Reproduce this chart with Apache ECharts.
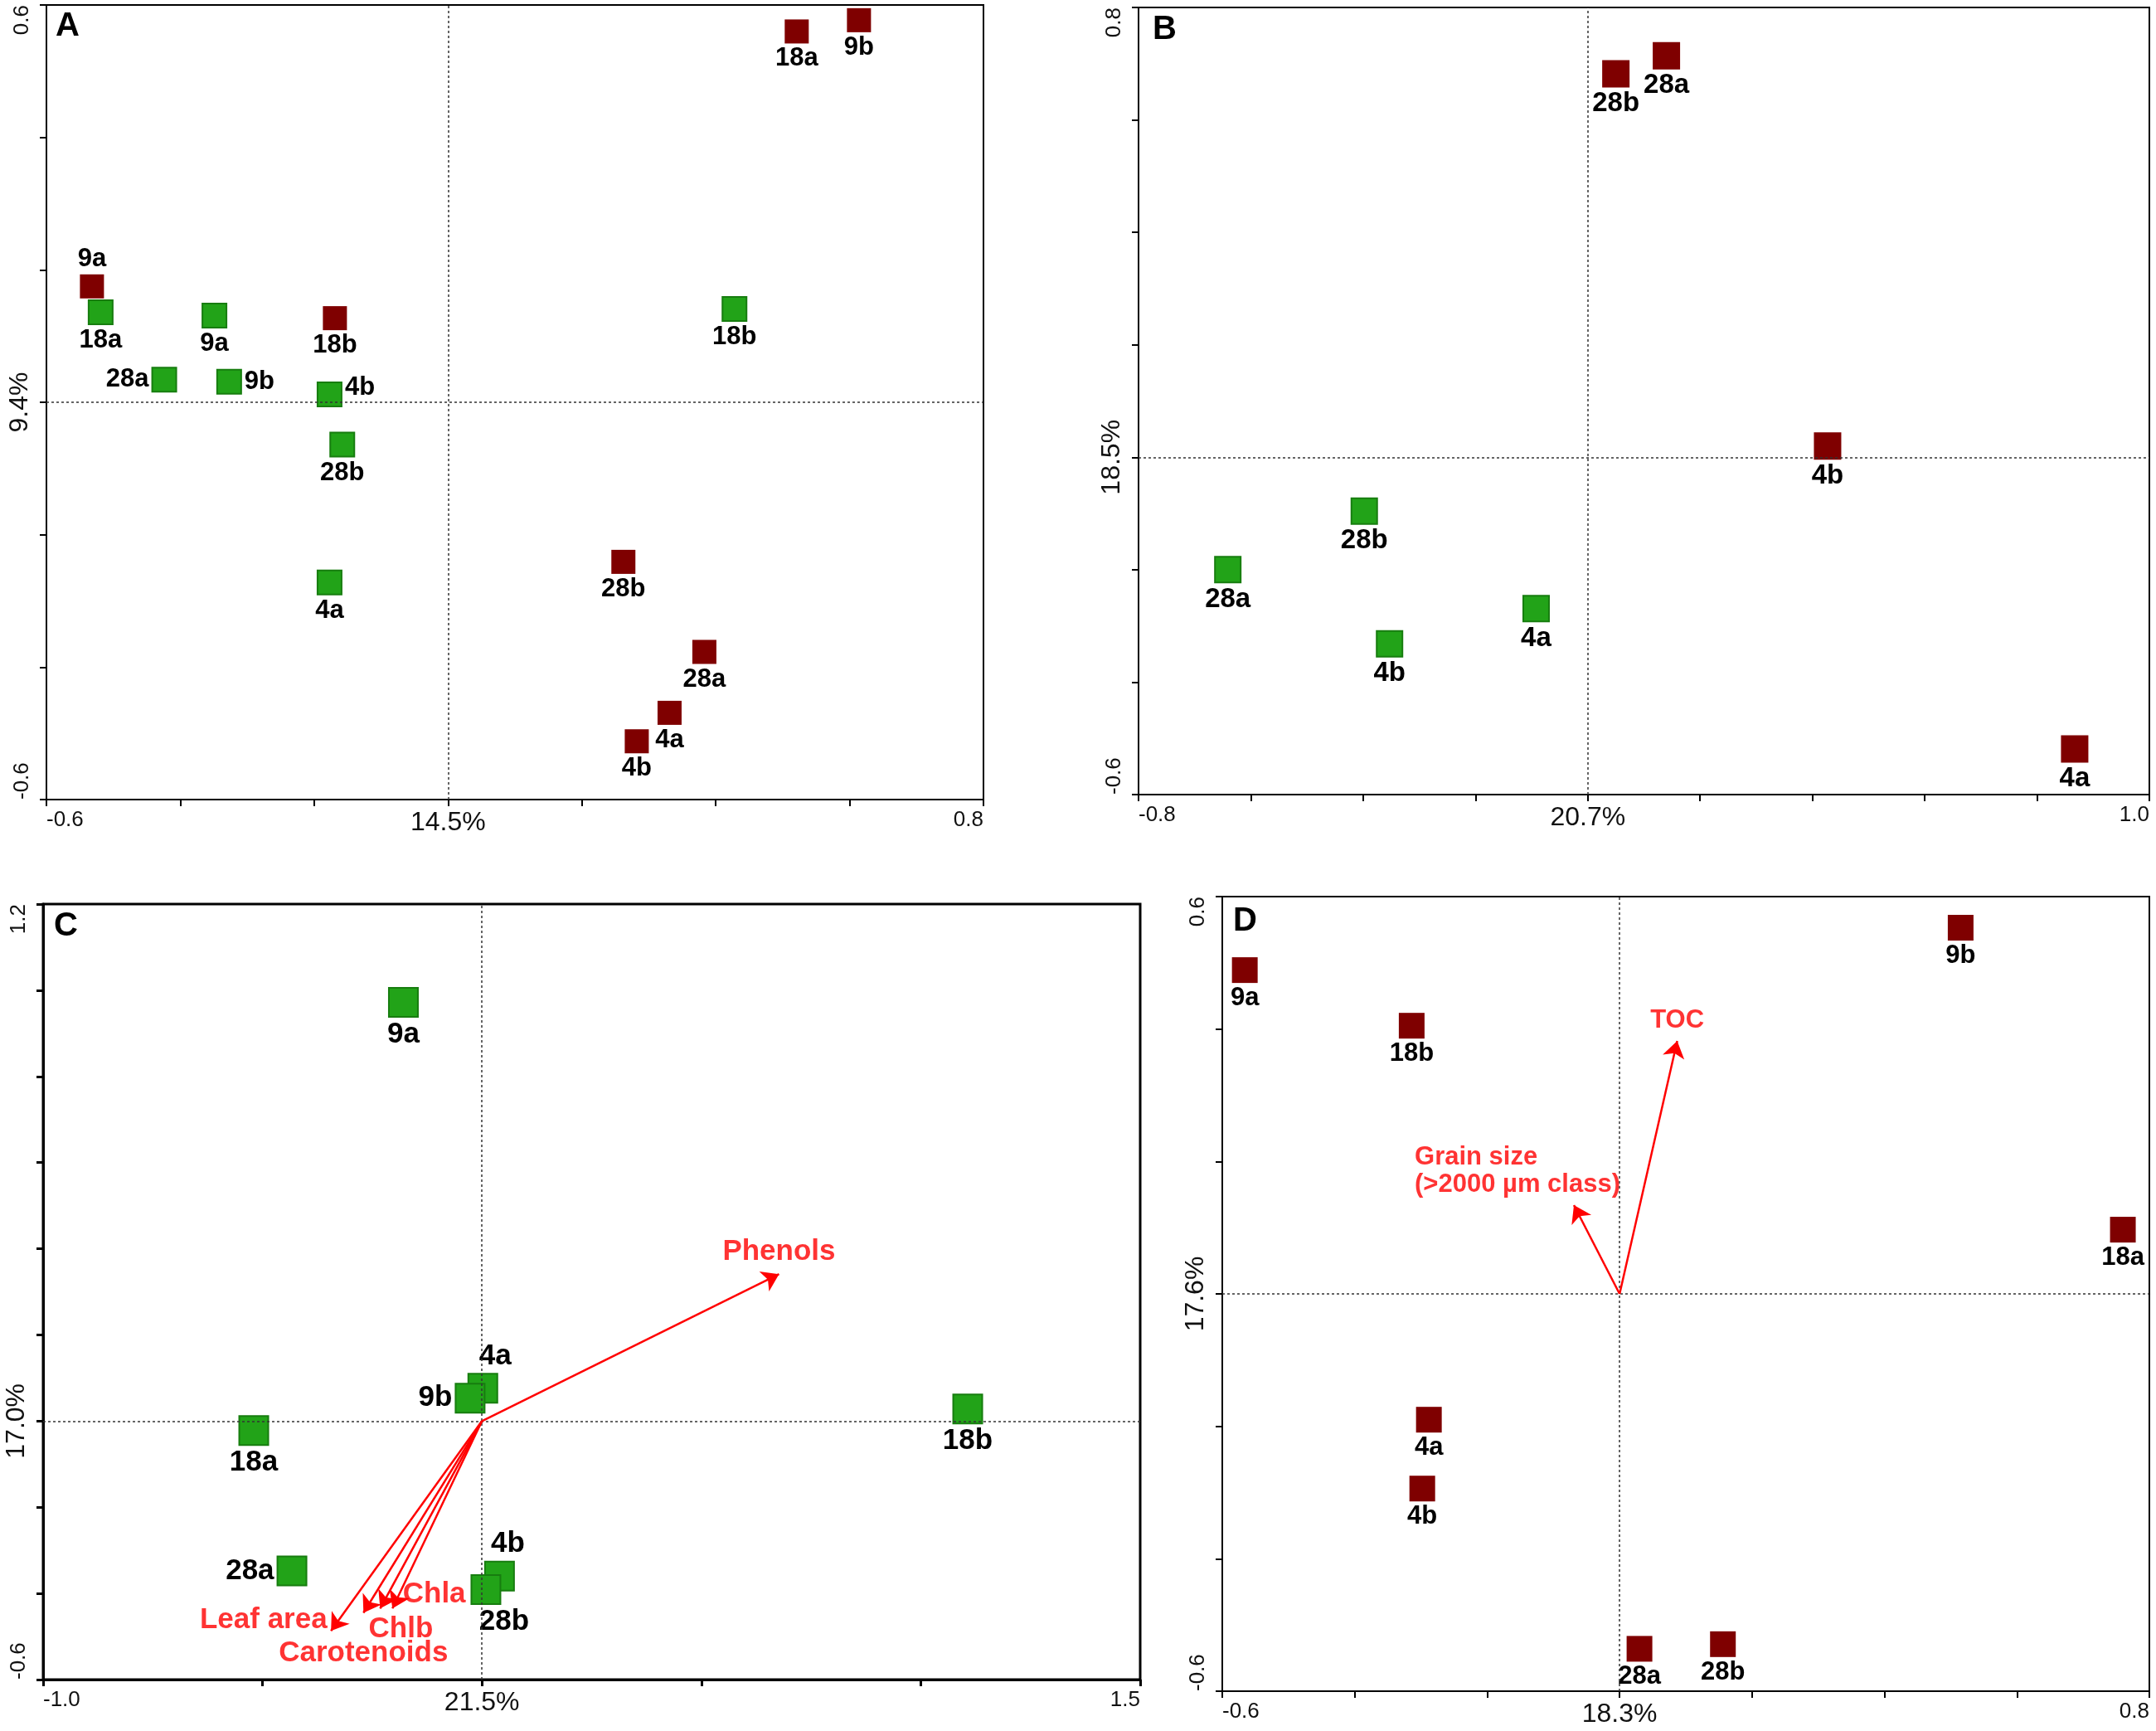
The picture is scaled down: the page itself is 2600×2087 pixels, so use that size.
<!DOCTYPE html>
<html>
<head>
<meta charset="utf-8">
<script src="https://cdn.jsdelivr.net/npm/echarts@6/dist/echarts.min.js"></script>
<style>
  html, body { margin: 0; padding: 0; background: #fff; }
  #chart { width: 2600px; height: 2087px; }
</style>
</head>
<body>
<div id="chart"></div>
<script>
// ---- panel A ----
const aRedNames = ['18a', '9b', '9a', '18b', '28b', '28a', '4a', '4b'];
const aRedX = [0.521, 0.614, -0.532, -0.169, 0.262, 0.383, 0.331, 0.282];
const aRedY = [0.560, 0.577, 0.175, 0.127, -0.241, -0.377, -0.469, -0.512];
const aGreenNames = ['18a', '9a', '28a', '9b', '4b', '28b', '4a', '18b'];
const aGreenX = [-0.519, -0.349, -0.424, -0.327, -0.177, -0.158, -0.177, 0.428];
const aGreenY = [0.136, 0.131, 0.034, 0.031, 0.012, -0.064, -0.272, 0.141];

// ---- panel B ----
const bRedNames = ['28b', '28a', '4b', '4a'];
const bRedX = [0.050, 0.140, 0.427, 0.867];
const bRedY = [0.682, 0.714, 0.020, -0.519];
const bGreenNames = ['28b', '28a', '4a', '4b'];
const bGreenX = [-0.398, -0.641, -0.092, -0.353];
const bGreenY = [-0.096, -0.200, -0.269, -0.332];

// ---- panel C ----
const cGreenNames = ['9a', '4a', '9b', '18a', '18b', '28a', '4b', '28b'];
const cGreenX = [-0.179, 0.002, -0.027, -0.520, 1.107, -0.433, 0.040, 0.009];
const cGreenY = [0.972, 0.076, 0.053, -0.022, 0.028, -0.348, -0.360, -0.391];
const cVarNames = ['Phenols', 'Leaf area', 'Carotenoids', 'Chlb', 'Chla'];
const cVarX = [0.677, -0.344, -0.270, -0.232, -0.204];
const cVarY = [0.341, -0.487, -0.445, -0.435, -0.435];

// ---- panel D ----
const dRedNames = ['9a', '18b', '9b', '18a', '4a', '4b', '28a', '28b'];
const dRedX = [-0.566, -0.314, 0.515, 0.760, -0.288, -0.298, 0.030, 0.156];
const dRedY = [0.489, 0.405, 0.553, 0.097, -0.190, -0.294, -0.536, -0.529];
const dVarNames = ['TOC', 'Grain size\n(>2000 µm class)'];
const dVarX = [0.087, -0.069];
const dVarY = [0.382, 0.134];

// axis percentages (x, y)
const axisPct = { A: ['14.5%', '9.4%'], B: ['20.7%', '18.5%'], C: ['21.5%', '17.0%'], D: ['18.3%', '17.6%'] };

// label placement (style only)
const aRedSides = ['bottom', 'bottom', 'top', 'bottom', 'bottom', 'bottom', 'bottom', 'bottom'];
const aGreenSides = ['bottom', 'bottom', 'left', 'right', ['right', 0, -8], 'bottom', 'bottom', 'bottom'];
const cGreenSides = ['bottom', ['top', 15, 0], 'left', 'bottom', 'bottom', 'left', ['top', 10, 0], ['bottom', 22, 0]];
const cVarSides = [['top', 0, 0, 8], ['left', 0, -13, 4], ['bottom', 0, 0, 30], ['bottom', 25, 0, 6], ['right', 0, -17, 12]];
const dVarSides = [['top', 0, 0, 8], ['top', -192, 0, 8, 'left']];

const FONT = '"Liberation Sans", Arial, sans-serif';
const RED = '#7f0000';
const GREEN = '#22a318';
const GREEN_EDGE = '#177d0f';
const ARROW = '#ff0000';

function labelOf(side) {
    const [pos, dx = 0, dy = 0, dist = 3, align] = Array.isArray(side) ? side : [side];
    const l = { position: pos, offset: [dx, dy], distance: dist };
    if (align) l.align = align;
    return l;
}

function points(names, xs, ys, sides) {
    return names.map((n, i) => ({
        name: n,
        value: [xs[i], ys[i]],
        label: labelOf(sides ? sides[i] : 'bottom')
    }));
}

function axis(grid, min, max, step, pct, isY, lineW) {
    const near = (a, b) => Math.abs(a - b) < 1e-9;
    return {
        type: 'value', gridIndex: grid, min: min, max: max, interval: step,
        axisLine: { show: true, onZero: false, lineStyle: { color: '#000', width: lineW } },
        axisTick: { show: true, length: 8, lineStyle: { color: '#000', width: lineW } },
        splitLine: { show: false },
        axisLabel: {
            show: true, showMinLabel: true, showMaxLabel: true,
            margin: isY ? 16 : 12, rotate: isY ? 90 : 0,
            color: '#111', fontSize: 26, fontFamily: FONT,
            alignMinLabel: 'left', alignMaxLabel: 'right',
            formatter: v => near(v, 0) ? '{p|' + pct + '}'
                : (near(v, min) || near(v, max)) ? v.toFixed(1) : '',
            rich: { p: { fontSize: 32, color: '#111', fontFamily: FONT } }
        }
    };
}

function scatter(grid, data, size, fontSize, green) {
    return {
        type: 'scatter', xAxisIndex: grid, yAxisIndex: grid, z: 3,
        symbol: 'rect', symbolSize: size,
        itemStyle: green ? { color: GREEN, borderColor: GREEN_EDGE, borderWidth: 2, opacity: 1 }
            : { color: RED, opacity: 1 },
        label: {
            show: true, formatter: '{b}', color: '#000', fontWeight: 'bold',
            fontSize: fontSize, fontFamily: FONT
        },
        emphasis: { disabled: true },
        data: data
    };
}

function zeroLines(grid) {
    return {
        type: 'scatter', xAxisIndex: grid, yAxisIndex: grid, z: 1, data: [],
        markLine: {
            silent: true, animation: false, symbol: 'none',
            label: { show: false },
            lineStyle: { color: '#333', width: 1.5, type: [3, 3], opacity: 1 },
            data: [{ xAxis: 0 }, { yAxis: 0 }]
        }
    };
}

function arrows(grid, names, xs, ys, sides, fontSize) {
    return {
        type: 'scatter', xAxisIndex: grid, yAxisIndex: grid, z: 4,
        symbolSize: 1, itemStyle: { color: 'rgba(0,0,0,0)' },
        label: {
            show: true, formatter: '{b}', color: ARROW, fontWeight: 'bold',
            fontSize: fontSize, fontFamily: FONT, lineHeight: fontSize + 2
        },
        emphasis: { disabled: true },
        data: points(names, xs, ys, sides),
        markLine: {
            silent: true, animation: false, symbol: ['none', 'arrow'], symbolSize: 20,
            label: { show: false },
            lineStyle: { color: ARROW, width: 2.5, type: 'solid', opacity: 1 },
            data: names.map((n, i) => [{ coord: [0, 0] }, { coord: [xs[i], ys[i]] }])
        }
    };
}

const grids = [
    { left: 56, top: 6, width: 1130, height: 958, lineW: 2 },
    { left: 1373, top: 9, width: 1219, height: 949, lineW: 2 },
    { left: 52, top: 1090, width: 1323, height: 935, lineW: 3 },
    { left: 1474, top: 1081, width: 1118, height: 958, lineW: 2 }
];

const option = {
    animation: false,
    backgroundColor: '#fff',
    grid: grids.map(g => ({
        left: g.left, top: g.top, width: g.width, height: g.height,
        show: true, borderColor: '#000', borderWidth: g.lineW,
        backgroundColor: 'transparent', outerBoundsMode: 'none'
    })),
    xAxis: [
        axis(0, -0.6, 0.8, 0.2, axisPct.A[0], false, 2),
        axis(1, -0.8, 1.0, 0.2, axisPct.B[0], false, 2),
        axis(2, -1.0, 1.5, 0.5, axisPct.C[0], false, 3),
        axis(3, -0.6, 0.8, 0.2, axisPct.D[0], false, 2)
    ],
    yAxis: [
        axis(0, -0.6, 0.6, 0.2, axisPct.A[1], true, 2),
        axis(1, -0.6, 0.8, 0.2, axisPct.B[1], true, 2),
        axis(2, -0.6, 1.2, 0.2, axisPct.C[1], true, 3),
        axis(3, -0.6, 0.6, 0.2, axisPct.D[1], true, 2)
    ],
    graphic: [
        ['A', 67, 12], ['B', 1390, 16], ['C', 65, 1097], ['D', 1487, 1091]
    ].map(([t, x, y]) => ({
        type: 'text', left: x, top: y, z: 10,
        style: { text: t, font: 'bold 40px ' + FONT, fill: '#000' }
    })),
    series: [
        zeroLines(0),
        scatter(0, points(aRedNames, aRedX, aRedY, aRedSides), 29, 31, false),
        scatter(0, points(aGreenNames, aGreenX, aGreenY, aGreenSides), 29, 31, true),

        zeroLines(1),
        scatter(1, points(bRedNames, bRedX, bRedY), 33, 33, false),
        scatter(1, points(bGreenNames, bGreenX, bGreenY), 31, 33, true),

        zeroLines(2),
        scatter(2, points(cGreenNames, cGreenX, cGreenY, cGreenSides), 35, 35, true),
        arrows(2, cVarNames, cVarX, cVarY, cVarSides, 35),

        zeroLines(3),
        scatter(3, points(dRedNames, dRedX, dRedY), 31, 31, false),
        arrows(3, dVarNames, dVarX, dVarY, dVarSides, 31)
    ]
};

const chart = echarts.init(document.getElementById('chart'));
chart.setOption(option);
</script>
</body>
</html>
